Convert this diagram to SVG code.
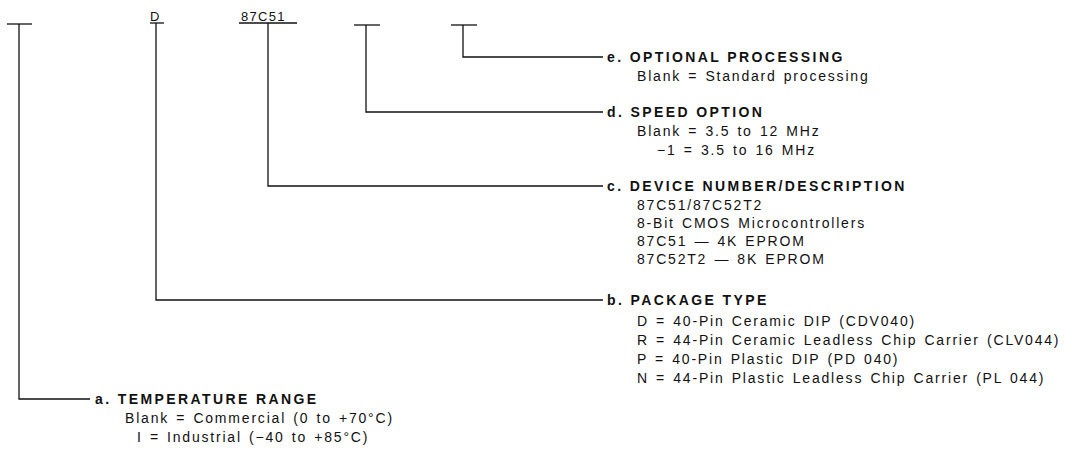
<svg xmlns="http://www.w3.org/2000/svg" width="1078" height="462" viewBox="0 0 1078 462">
<style>
text{font-family:"Liberation Sans",Arial,Helvetica,sans-serif;fill:#111;}
.t{font-size:14px;font-weight:bold;letter-spacing:2.4px;}
.b{font-size:14px;letter-spacing:1.8px;word-spacing:1.5px;}
.p{font-size:13px;letter-spacing:1.3px;}
.ln{fill:none;stroke:#111;stroke-width:1.3;}
</style>
<rect width="1078" height="462" fill="#fff"/>
<g id="part-number">
<line class="ln" x1="7" y1="24" x2="32" y2="24"/>
<text class="p" x="150" y="21">D</text>
<line class="ln" x1="150" y1="23" x2="164" y2="23"/>
<text class="p" x="241" y="21">87C51</text>
<line class="ln" x1="239" y1="23" x2="297" y2="23"/>
<line class="ln" x1="354" y1="25" x2="380" y2="25"/>
<line class="ln" x1="451" y1="25" x2="477" y2="25"/>
</g>
<g id="connectors">
<polyline class="ln" points="463,25 463,57 603,57"/>
<polyline class="ln" points="366,25 366,112 603,112"/>
<polyline class="ln" points="268,23 268,186 603,186"/>
<polyline class="ln" points="156,23 156,300 603,300"/>
<polyline class="ln" points="19,24 19,399 90,399"/>
</g>
<g id="e">
<text class="t" x="607" y="62">e. OPTIONAL PROCESSING</text>
<text class="b" x="637" y="81">Blank = Standard processing</text>
</g>
<g id="d">
<text class="t" x="607" y="117">d. SPEED OPTION</text>
<text class="b" x="637" y="136">Blank = 3.5 to 12 MHz</text>
<text class="b" x="657" y="155">−1 = 3.5 to 16 MHz</text>
</g>
<g id="c">
<text class="t" x="607" y="191">c. DEVICE NUMBER/DESCRIPTION</text>
<text class="b" x="637" y="210">87C51/87C52T2</text>
<text class="b" x="637" y="228">8-Bit CMOS Microcontrollers</text>
<text class="b" x="637" y="246">87C51 — 4K EPROM</text>
<text class="b" x="637" y="264">87C52T2 — 8K EPROM</text>
</g>
<g id="b">
<text class="t" x="607" y="305">b. PACKAGE TYPE</text>
<text class="b" x="637" y="326">D = 40-Pin Ceramic DIP (CDV040)</text>
<text class="b" x="637" y="345">R = 44-Pin Ceramic Leadless Chip Carrier (CLV044)</text>
<text class="b" x="637" y="364">P = 40-Pin Plastic DIP (PD 040)</text>
<text class="b" x="637" y="383">N = 44-Pin Plastic Leadless Chip Carrier (PL 044)</text>
</g>
<g id="a">
<text class="t" x="95" y="404">a. TEMPERATURE RANGE</text>
<text class="b" x="125" y="423">Blank = Commercial (0 to +70°C)</text>
<text class="b" x="137" y="442">I = Industrial (−40 to +85°C)</text>
</g>
</svg>
